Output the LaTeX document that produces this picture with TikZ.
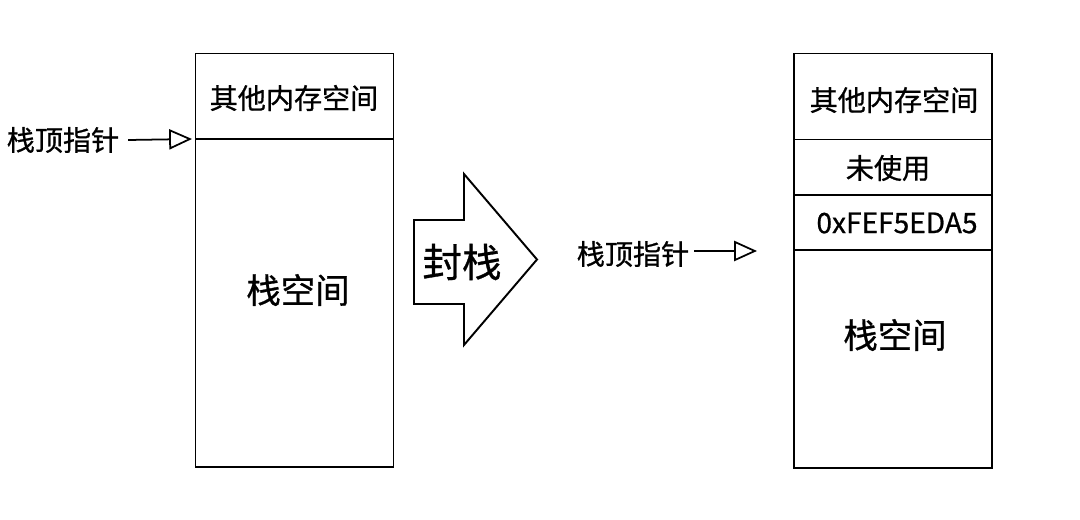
\documentclass[tikz,border=0pt]{standalone}
\usepackage{fontspec}
\newfontfamily\cjk[FakeBold=0.8]{Noto Sans CJK SC}
\usetikzlibrary{arrows, arrows.meta}

\begin{document}
\begin{tikzpicture}[x=0.02cm, y=-0.02cm, line width=1.1pt,
    label/.style={font=\cjk\fontsize{16}{19}\selectfont, inner sep=0pt},
    biglabel/.style={font=\cjk\fontsize{19.6}{23}\selectfont, inner sep=0pt},
    pointer/.style={-{Triangle[open, length=13pt, width=11.5pt]}, line width=1pt}]
    \useasboundingbox (0,0) rectangle (1080,520);

    % left stack
    \draw (195.5,53.5) rectangle (393.5,467);
    \draw (195.5,139) -- (393.5,139);
    \node[label] (lother) at (294,98) {其他内存空间};
    \node[biglabel] (lstack) at (298,290) {栈空间};
    \node[label] (lptr) at (63,140) {栈顶指针};
    \coordinate (ltip) at (192,139);
    \draw[pointer] (lptr.east) ++(8,0) -- (ltip);

    % seal arrow
    \draw (414,220) -- (464,220) -- (464,174) -- (537,259.5) -- (464,345) -- (464,304) -- (414,304) -- cycle;
    \node[font=\cjk\fontsize{22.5}{26}\selectfont, inner sep=0pt] (seal) at (462,262) {封栈};

    % right stack
    \draw (794,53.5) rectangle (992,468);
    \draw (794,139.5) -- (992,139.5);
    \draw (794,195) -- (992,195);
    \draw (794,250) -- (992,250);
    \node[label] (rother) at (894,100) {其他内存空间};
    \node[label] (runused) at (888,168) {未使用};
    \node[label] (rmagic) at (897,223) {0xFEF5EDA5};
    \node[biglabel] (rstack) at (895,335) {栈空间};
    \node[label] (rptr) at (633,254) {栈顶指针};
    \coordinate (rtip) at (757,251);
    \draw[pointer] (rptr.east) ++(4,-3) -- (rtip);
\end{tikzpicture}
\end{document}
